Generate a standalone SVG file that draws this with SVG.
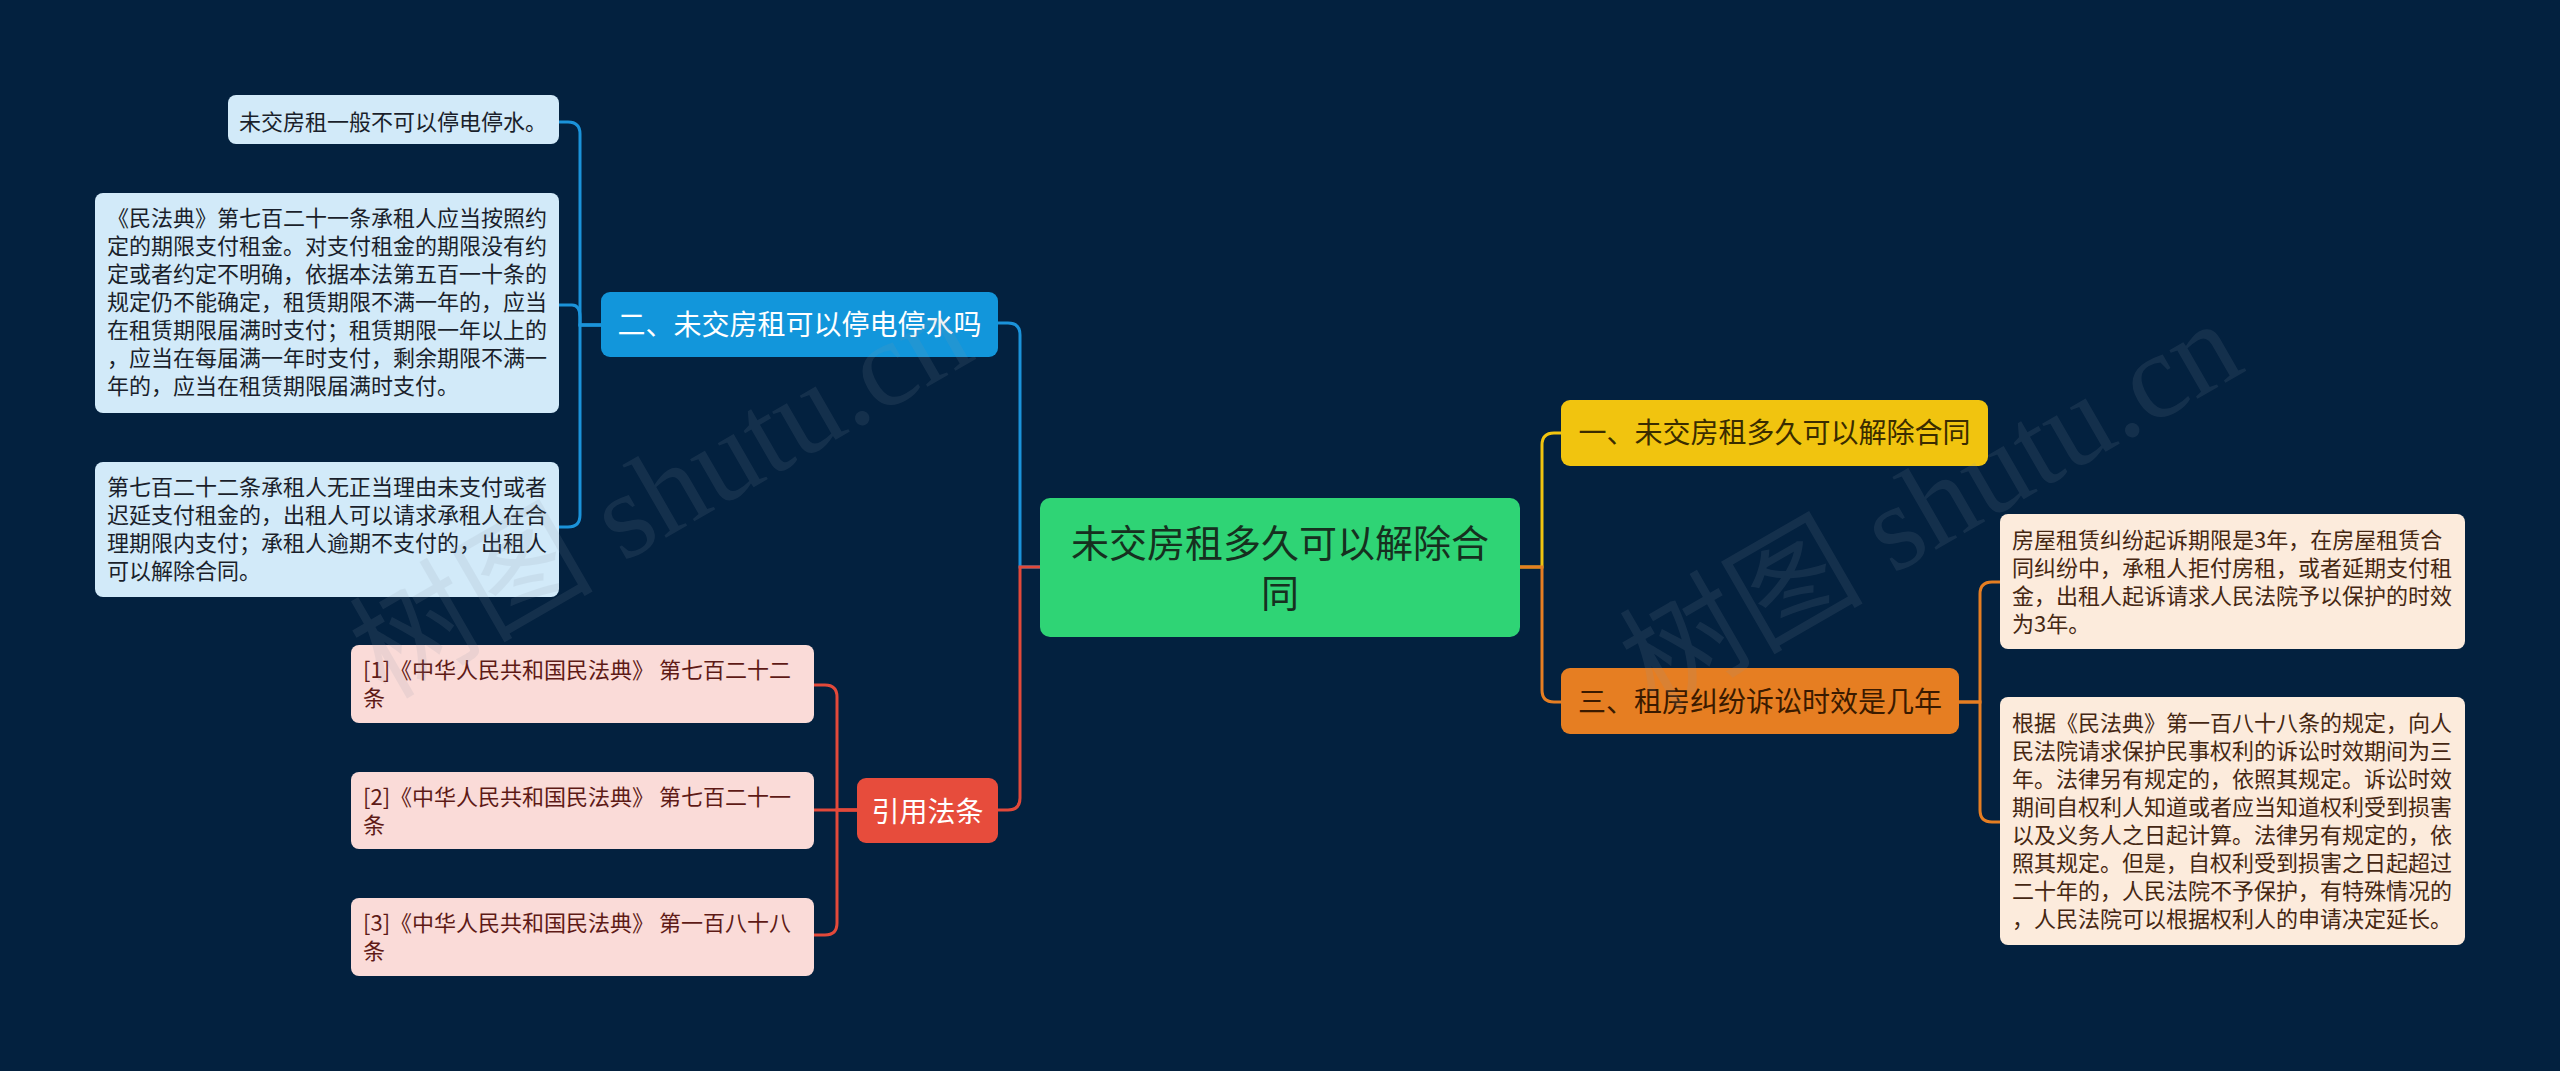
<svg xmlns="http://www.w3.org/2000/svg" width="2560" height="1071" viewBox="0 0 2560 1071">
<style>
text{font-family:"Noto Sans CJK SC","Noto Sans",sans-serif}
.wm{font-family:"Liberation Serif","Noto Sans CJK SC",serif;font-size:122px;fill:#8a96a6;opacity:0.13}
.c{fill:none;stroke-width:3}
.blue{stroke:#1b93da}
.red{stroke:#e2493a}
.yel{stroke:#f1c40f}
.org{stroke:#e67e22}
.s{font-size:22px}
.lb{fill:#d2eaf9}
.lbt{fill:#1a1f2b}
.pk{fill:#fadbd8}
.pkt{fill:#5e1a16}
.cr{fill:#fcebdc}
.crt{fill:#452712}
.m{font-size:28px;text-anchor:middle}
</style>
<rect width="2560" height="1071" fill="#03213f"/>

<g id="connectors">
<path class="c blue" d="M1040 567 H1020 V335 Q1020 323 1008 323 H998"/>
<path class="c red" d="M1040 567 H1020 V798 Q1020 810 1008 810 H998"/>
<path class="c yel" d="M1520 567 H1542 V445 Q1542 433 1554 433 H1561"/>
<path class="c org" d="M1520 567 H1542 V690 Q1542 702 1554 702 H1561"/>
<path class="c blue" d="M601 325 H580 V134 Q580 122 568 122 H559"/>
<path class="c blue" d="M601 325 H580 V317 Q580 305 572 305 H559"/>
<path class="c blue" d="M601 325 H580 V515 Q580 527 568 527 H559"/>
<path class="c red" d="M857 810 H837 V697 Q837 685 825 685 H814"/>
<path class="c red" d="M857 810 H814"/>
<path class="c red" d="M857 810 H837 V923 Q837 935 825 935 H814"/>
<path class="c org" d="M1959 702 H1980 V594 Q1980 582 1992 582 H2000"/>
<path class="c org" d="M1959 702 H1980 V810 Q1980 822 1992 822 H2000"/>
</g>

<g id="root">
<rect x="1040" y="498" width="480" height="139" rx="10" fill="#2fd475"/>
<text x="1280" y="557" font-size="38" text-anchor="middle" fill="#16301f">未交房租多久可以解除合</text>
<text x="1280" y="607" font-size="38" text-anchor="middle" fill="#16301f">同</text>
</g>

<g id="n-b2">
<rect x="601" y="292" width="397" height="65" rx="9" fill="#1296db"/>
<text class="m" x="799.5" y="335" fill="#ffffff">二、未交房租可以停电停水吗</text>
</g>

<g id="n-b2-1">
<rect class="lb" x="228" y="95" width="331" height="49" rx="8"/>
<text class="s lbt" x="239" y="130">未交房租一般不可以停电停水。</text>
</g>

<g id="n-b2-2">
<rect class="lb" x="95" y="193" width="464" height="220" rx="8"/>
<text class="s lbt" x="107" y="226">《民法典》第七百二十一条承租人应当按照约</text>
<text class="s lbt" x="107" y="254">定的期限支付租金。对支付租金的期限没有约</text>
<text class="s lbt" x="107" y="282">定或者约定不明确，依据本法第五百一十条的</text>
<text class="s lbt" x="107" y="310">规定仍不能确定，租赁期限不满一年的，应当</text>
<text class="s lbt" x="107" y="338">在租赁期限届满时支付；租赁期限一年以上的</text>
<text class="s lbt" x="107" y="366">，应当在每届满一年时支付，剩余期限不满一</text>
<text class="s lbt" x="107" y="394">年的，应当在租赁期限届满时支付。</text>
</g>

<g id="n-b2-3">
<rect class="lb" x="95" y="462" width="464" height="135" rx="8"/>
<text class="s lbt" x="107" y="495">第七百二十二条承租人无正当理由未支付或者</text>
<text class="s lbt" x="107" y="523">迟延支付租金的，出租人可以请求承租人在合</text>
<text class="s lbt" x="107" y="551">理期限内支付；承租人逾期不支付的，出租人</text>
<text class="s lbt" x="107" y="579">可以解除合同。</text>
</g>

<g id="n-ref">
<rect x="857" y="778" width="141" height="65" rx="9" fill="#e74c3c"/>
<text class="m" x="927.5" y="822" fill="#ffffff">引用法条</text>
</g>

<g id="n-ref-1">
<rect class="pk" x="351" y="645" width="463" height="78" rx="8"/>
<text class="s pkt" x="363" y="678">[1]《中华人民共和国民法典》 第七百二十二</text>
<text class="s pkt" x="363" y="706">条</text>
</g>

<g id="n-ref-2">
<rect class="pk" x="351" y="772" width="463" height="77" rx="8"/>
<text class="s pkt" x="363" y="805">[2]《中华人民共和国民法典》 第七百二十一</text>
<text class="s pkt" x="363" y="833">条</text>
</g>

<g id="n-ref-3">
<rect class="pk" x="351" y="898" width="463" height="78" rx="8"/>
<text class="s pkt" x="363" y="931">[3]《中华人民共和国民法典》 第一百八十八</text>
<text class="s pkt" x="363" y="959">条</text>
</g>

<g id="n-b1">
<rect x="1561" y="400" width="427" height="66" rx="9" fill="#f1c40f"/>
<text class="m" x="1774.5" y="443" fill="#3a2c00">一、未交房租多久可以解除合同</text>
</g>

<g id="n-b3">
<rect x="1561" y="668" width="398" height="66" rx="9" fill="#e67e22"/>
<text class="m" x="1760" y="712" fill="#3a1a00">三、租房纠纷诉讼时效是几年</text>
</g>

<g id="n-b3-1">
<rect class="cr" x="2000" y="514" width="465" height="135" rx="8"/>
<text class="s crt" x="2012" y="548">房屋租赁纠纷起诉期限是3年，在房屋租赁合</text>
<text class="s crt" x="2012" y="576">同纠纷中，承租人拒付房租，或者延期支付租</text>
<text class="s crt" x="2012" y="604">金，出租人起诉请求人民法院予以保护的时效</text>
<text class="s crt" x="2012" y="632">为3年。</text>
</g>

<g id="n-b3-2">
<rect class="cr" x="2000" y="697" width="465" height="248" rx="8"/>
<text class="s crt" x="2012" y="731">根据《民法典》第一百八十八条的规定，向人</text>
<text class="s crt" x="2012" y="759">民法院请求保护民事权利的诉讼时效期间为三</text>
<text class="s crt" x="2012" y="787">年。法律另有规定的，依照其规定。诉讼时效</text>
<text class="s crt" x="2012" y="815">期间自权利人知道或者应当知道权利受到损害</text>
<text class="s crt" x="2012" y="843">以及义务人之日起计算。法律另有规定的，依</text>
<text class="s crt" x="2012" y="871">照其规定。但是，自权利受到损害之日起超过</text>
<text class="s crt" x="2012" y="899">二十年的，人民法院不予保护，有特殊情况的</text>
<text class="s crt" x="2012" y="927">，人民法院可以根据权利人的申请决定延长。</text>
</g>

<g id="watermark">
<text class="wm" transform="translate(385,700) rotate(-30)">树图 shutu.cn</text>
<text class="wm" transform="translate(1655,712) rotate(-30)">树图 shutu.cn</text>
</g>
</svg>
